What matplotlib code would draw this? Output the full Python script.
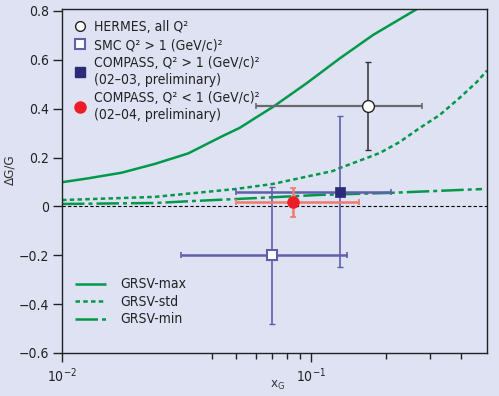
import matplotlib
matplotlib.use("Agg")
import matplotlib.pyplot as plt
from matplotlib.lines import Line2D
from matplotlib.ticker import FixedLocator, FixedFormatter, NullFormatter
import numpy as np

plt.rcParams['font.family'] = ['DejaVu Sans']
plt.rcParams['font.stretch'] = 'condensed'
plt.rcParams['mathtext.fontset'] = 'dejavusans'

# ---------------- data ----------------
grsv_max_x = [0.01, 0.01275, 0.01737, 0.02362, 0.03215, 0.04378, 0.05187, 0.05957,
              0.07058, 0.0961, 0.1307, 0.1779, 0.2658, 0.28]
grsv_max_y = [0.099, 0.115, 0.138, 0.174, 0.217, 0.286, 0.322, 0.361,
              0.408, 0.504, 0.606, 0.702, 0.807, 0.83]

grsv_std_x = [0.01, 0.0236, 0.0496, 0.0704, 0.1226, 0.1307, 0.1694, 0.1894, 0.2277,
              0.2737, 0.3291, 0.3957, 0.4637, 0.51]
grsv_std_y = [0.026, 0.039, 0.071, 0.092, 0.145, 0.157, 0.200, 0.219, 0.264,
              0.321, 0.374, 0.444, 0.509, 0.556]

grsv_min_x = [0.01, 0.0236, 0.0336, 0.0496, 0.1087, 0.2025, 0.487]
grsv_min_y = [0.010, 0.014, 0.022, 0.030, 0.047, 0.055, 0.071]

hermes_x, hermes_y, hermes_yerr = [0.17], [0.41], [0.18]
hermes_xlo, hermes_xhi = [0.06], [0.28]

smc_x, smc_y, smc_yerr = [0.07], [-0.20], [0.28]
smc_xlo, smc_xhi = [0.030], [0.14]

comp_hi_x, comp_hi_y, comp_hi_yerr = [0.131], [0.06], [0.31]
comp_hi_xlo, comp_hi_xhi = [0.05], [0.21]

comp_lo_x, comp_lo_y, comp_lo_yerr = [0.085], [0.016], [0.059]
comp_lo_xlo, comp_lo_xhi = [0.05], [0.156]

y_ticks = [-0.6, -0.4, -0.2, 0, 0.2, 0.4, 0.6, 0.8]
y_ticklabels = ['\u22120.6', '\u22120.4', '\u22120.2', '0', '0.2', '0.4', '0.6', '0.8']
x_ticks = [0.01, 0.1]
x_ticklabels = [r'$\mathregular{10^{-2}}$', r'$\mathregular{10^{-1}}$']
x_minor = [0.04, 0.05, 0.06, 0.07, 0.08, 0.09, 0.2, 0.3, 0.4]

# ---------------- style ----------------
bg = '#dfe2f3'
green = '#00994a'
bar_blue = '#5f5fab'
navy = '#2b2b7b'
red = '#ec1c28'
salmon = '#ee7b6c'
txt = '#222222'

fig = plt.figure(figsize=(4.99, 3.96), dpi=100, facecolor=bg)
ax = fig.add_axes([62/499, 1-353/396, (487-62)/499, (353-9)/396])
ax.set_facecolor(bg)
ax.set_xscale('log')
ax.set_xlim(0.01, 0.51)
ax.set_ylim(-0.6, 0.808)

# zero line
ax.axhline(0, color='black', lw=0.8, dashes=(3, 2), zorder=1)

# curves
l_max, = ax.plot(grsv_max_x, grsv_max_y, color=green, lw=1.8, solid_capstyle='butt', zorder=2)
l_std, = ax.plot(grsv_std_x, grsv_std_y, color=green, lw=1.8, dashes=(1.8, 1.3), zorder=2)
l_min, = ax.plot(grsv_min_x, grsv_min_y, color=green, lw=1.8, dashes=(9, 1.6, 1.6, 1.6), zorder=2)

def xerr_from(x, lo, hi):
    return [[a - b for a, b in zip(x, lo)], [c - a for a, c in zip(x, hi)]]

# HERMES
ax.errorbar(hermes_x, hermes_y, xerr=xerr_from(hermes_x, hermes_xlo, hermes_xhi),
            fmt='none', ecolor='#6a6a6a', elinewidth=1.6, capsize=2, capthick=1.2, zorder=3)
ax.errorbar(hermes_x, hermes_y, yerr=hermes_yerr,
            fmt='none', ecolor='#333333', elinewidth=1.1, capsize=2, capthick=1.0, zorder=3)
ax.plot(hermes_x, hermes_y, 'o', ms=8.5, mfc='white', mec='#222222', mew=1.0, zorder=5)

# SMC
ax.errorbar(smc_x, smc_y, xerr=xerr_from(smc_x, smc_xlo, smc_xhi),
            fmt='none', ecolor=bar_blue, elinewidth=1.8, capsize=2, capthick=1.2, zorder=3)
ax.errorbar(smc_x, smc_y, yerr=smc_yerr,
            fmt='none', ecolor=bar_blue, elinewidth=1.2, capsize=2, capthick=1.0, zorder=3)
ax.plot(smc_x, smc_y, 's', ms=7, mfc='white', mec=bar_blue, mew=1.5, zorder=5)

# COMPASS Q2>1
ax.errorbar(comp_hi_x, comp_hi_y, xerr=xerr_from(comp_hi_x, comp_hi_xlo, comp_hi_xhi),
            fmt='none', ecolor=bar_blue, elinewidth=1.8, capsize=2, capthick=1.2, zorder=3)
ax.errorbar(comp_hi_x, comp_hi_y, yerr=comp_hi_yerr,
            fmt='none', ecolor=bar_blue, elinewidth=1.2, capsize=2, capthick=1.0, zorder=3)
ax.plot(comp_hi_x, comp_hi_y, 's', ms=7.5, mfc=navy, mec=navy, mew=0.5, zorder=5)

# COMPASS Q2<1
ax.errorbar(comp_lo_x, comp_lo_y, xerr=xerr_from(comp_lo_x, comp_lo_xlo, comp_lo_xhi),
            fmt='none', ecolor=salmon, elinewidth=1.8, capsize=2, capthick=1.2, zorder=3)
ax.errorbar(comp_lo_x, comp_lo_y, yerr=comp_lo_yerr,
            fmt='none', ecolor=salmon, elinewidth=1.8, capsize=2, capthick=1.2, zorder=3)
ax.plot(comp_lo_x, comp_lo_y, 'o', ms=8, mfc=red, mec=red, zorder=5)

# ticks
ax.yaxis.set_major_locator(FixedLocator(y_ticks))
ax.yaxis.set_major_formatter(FixedFormatter(y_ticklabels))
ax.xaxis.set_major_locator(FixedLocator(x_ticks))
ax.xaxis.set_major_formatter(FixedFormatter(x_ticklabels))
ax.xaxis.set_minor_locator(FixedLocator(x_minor))
ax.xaxis.set_minor_formatter(NullFormatter())
ax.yaxis.set_minor_locator(FixedLocator([]))
ax.tick_params(axis='both', which='major', direction='out', length=6.5, width=1.0,
               labelsize=10, colors='#222222', pad=3)
ax.tick_params(axis='x', which='minor', direction='out', length=4.5, width=1.0, colors='#222222')
for s in ax.spines.values():
    s.set_color('#222222')
    s.set_linewidth(1.0)

ax.set_ylabel('\u0394G/G', fontsize=9.5, color='#333333')
ax.yaxis.set_label_coords(-0.108, 0.532)
ax.set_xlabel(r'x$_{\mathregular{G}}$', fontsize=9.5, color='#333333')
ax.xaxis.set_label_coords(0.506, -0.076)

# legends
h1 = [Line2D([], [], ls='none', marker='o', ms=7, mfc='white', mec='#222222', mew=1.0),
      Line2D([], [], ls='none', marker='s', ms=6.5, mfc='white', mec=bar_blue, mew=1.5),
      Line2D([], [], ls='none', marker='s', ms=7, mfc=navy, mec=navy),
      Line2D([], [], ls='none', marker='o', ms=8, mfc=red, mec=red)]
lab1 = ['HERMES, all Q\u00b2', 'SMC Q\u00b2 > 1 (GeV/c)\u00b2',
        'COMPASS, Q\u00b2 > 1 (GeV/c)\u00b2\n(02\u201303, preliminary)',
        'COMPASS, Q\u00b2 < 1 (GeV/c)\u00b2\n(02\u201304, preliminary)']
leg1 = ax.legend(h1, lab1, loc='upper left', bbox_to_anchor=(0.0, 1.0), frameon=False,
                 fontsize=10, handlelength=1.0, handletextpad=0.5, labelspacing=0.3,
                 borderaxespad=0.4, labelcolor='#222222')
for t in leg1.get_texts():
    t.set_linespacing(1.25)
ax.add_artist(leg1)

leg2 = ax.legend([l_max, l_std, l_min], ['GRSV-max', 'GRSV-std', 'GRSV-min'],
                 loc='upper left', bbox_to_anchor=(0.0, 0.256),
                 frameon=False, fontsize=10, handlelength=2.3, handletextpad=1.0,
                 labelspacing=0.25, labelcolor='#222222')

fig.savefig('out.png', dpi=100, facecolor=bg)
